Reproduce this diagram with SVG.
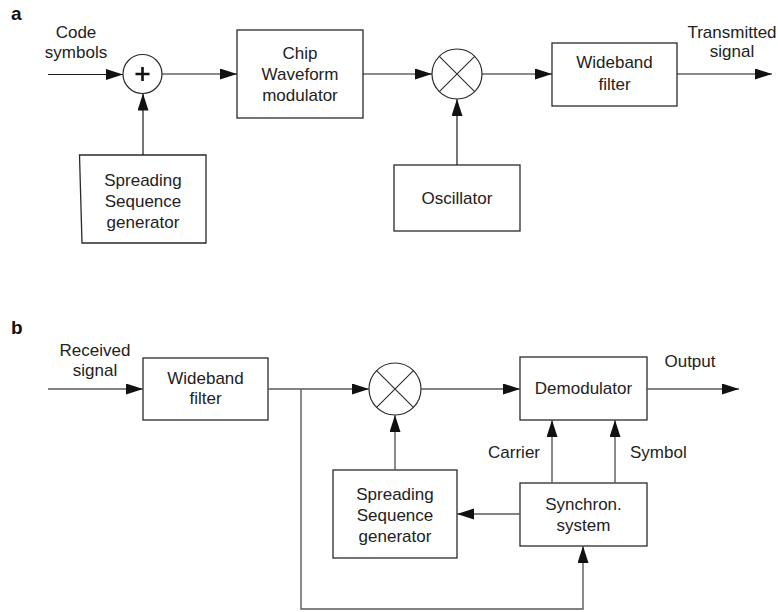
<svg xmlns="http://www.w3.org/2000/svg" width="778" height="612" viewBox="0 0 778 612">
  <style>
    .box { fill: #fff; stroke: #2a2a2a; stroke-width: 1.3; }
    .ring { fill: #fff; stroke: #2a2a2a; stroke-width: 1.2; }
    .x { stroke: #2a2a2a; stroke-width: 1.1; fill: none; }
    .wa { stroke: #1a1a1a; stroke-width: 1.2; fill: none; }
    .wb { stroke: #5a5a5a; stroke-width: 1.4; fill: none; }
    text { font-family: "Liberation Sans", Arial, sans-serif; font-size: 17px; fill: #222; }
    .c { text-anchor: middle; }
    .tag { font-weight: bold; font-size: 19px; fill: #111; }
  </style>
  <defs>
    <marker id="arr" markerUnits="userSpaceOnUse" markerWidth="17" markerHeight="12" refX="17" refY="5.5" orient="auto">
      <path d="M0,0 L17,5.5 L0,11 z" fill="#111"/>
    </marker>
  </defs>

  <!-- panel labels -->
  <text class="tag" x="11" y="20">a</text>
  <text class="tag" x="11" y="334">b</text>

  <!-- ===== transmitter ===== -->
  <g id="code-symbols-label">
    <text class="c" x="76" y="38">Code</text>
    <text class="c" x="76" y="58">symbols</text>
  </g>
  <g id="adder">
    <circle class="ring" cx="142.5" cy="74" r="19.5"/>
    <path d="M135.5,74 H149.5 M142.5,67 V81" stroke="#111" stroke-width="2.6"/>
  </g>
  <g id="chip-modulator">
    <rect class="box" x="237" y="30" width="126" height="88"/>
    <text class="c" x="300" y="59">Chip</text>
    <text class="c" x="300" y="80">Waveform</text>
    <text class="c" x="300" y="101">modulator</text>
  </g>
  <g id="tx-mixer">
    <circle class="ring" cx="457" cy="74" r="25"/>
    <path class="x" d="M439.3,56.3 L474.7,91.7 M474.7,56.3 L439.3,91.7"/>
  </g>
  <g id="tx-filter">
    <rect class="box" x="552" y="43" width="125" height="63"/>
    <text class="c" x="614.5" y="68">Wideband</text>
    <text class="c" x="614.5" y="90">filter</text>
  </g>
  <g id="transmitted-label">
    <text class="c" x="732" y="38">Transmitted</text>
    <text class="c" x="732" y="57">signal</text>
  </g>
  <g id="tx-spreading">
    <polygon class="box" points="79.5,155 206,155 206,243 82,243"/>
    <text class="c" x="143" y="186">Spreading</text>
    <text class="c" x="143" y="207">Sequence</text>
    <text class="c" x="143" y="228">generator</text>
  </g>
  <g id="oscillator">
    <rect class="box" x="394" y="165" width="126" height="66"/>
    <text class="c" x="457" y="204">Oscillator</text>
  </g>

  <g id="tx-connectors">
    <line class="wa" x1="48" y1="74.5" x2="123" y2="74.5" marker-end="url(#arr)"/>
    <line class="wa" x1="162" y1="74" x2="237" y2="74" marker-end="url(#arr)"/>
    <line class="wa" x1="143" y1="155" x2="143" y2="93.5" marker-end="url(#arr)"/>
    <line class="wa" x1="363" y1="74" x2="432" y2="74" marker-end="url(#arr)"/>
    <line class="wa" x1="457" y1="165" x2="457" y2="99" marker-end="url(#arr)"/>
    <line class="wa" x1="482" y1="74" x2="552" y2="74" marker-end="url(#arr)"/>
    <line class="wa" x1="677" y1="74" x2="772" y2="74" marker-end="url(#arr)"/>
  </g>

  <!-- ===== receiver ===== -->
  <g id="received-label">
    <text class="c" x="95" y="356">Received</text>
    <text class="c" x="95" y="376">signal</text>
  </g>
  <g id="rx-filter">
    <rect class="box" x="143" y="358" width="125" height="62"/>
    <text class="c" x="205.5" y="384">Wideband</text>
    <text class="c" x="205.5" y="404">filter</text>
  </g>
  <g id="rx-mixer">
    <circle class="ring" cx="395" cy="389" r="26"/>
    <path class="x" d="M376.6,370.6 L413.4,407.4 M413.4,370.6 L376.6,407.4"/>
  </g>
  <g id="demodulator">
    <rect class="box" x="520" y="357" width="127" height="63"/>
    <text class="c" x="583.5" y="394">Demodulator</text>
  </g>
  <g id="output-label">
    <text class="c" x="690" y="367">Output</text>
  </g>
  <g id="carrier-label">
    <text x="540" y="458" text-anchor="end">Carrier</text>
  </g>
  <g id="symbol-label">
    <text x="630" y="458">Symbol</text>
  </g>
  <g id="rx-spreading">
    <rect class="box" x="333" y="470" width="124" height="88"/>
    <text class="c" x="395" y="500">Spreading</text>
    <text class="c" x="395" y="521">Sequence</text>
    <text class="c" x="395" y="542">generator</text>
  </g>
  <g id="synchronizer">
    <rect class="box" x="520" y="483" width="127" height="63"/>
    <text class="c" x="583.5" y="510">Synchron.</text>
    <text class="c" x="583.5" y="531">system</text>
  </g>

  <g id="rx-connectors">
    <line class="wb" x1="48" y1="389" x2="143" y2="389" marker-end="url(#arr)"/>
    <line class="wb" x1="268" y1="389" x2="369" y2="389" marker-end="url(#arr)"/>
    <polyline class="wb" points="301,389 301,609 583,609 583,546" marker-end="url(#arr)"/>
    <line class="wb" x1="395" y1="470" x2="395" y2="415" marker-end="url(#arr)"/>
    <line class="wb" x1="421" y1="389" x2="520" y2="389" marker-end="url(#arr)"/>
    <line class="wb" x1="647" y1="389" x2="739" y2="389" marker-end="url(#arr)"/>
    <line class="wb" x1="552" y1="483" x2="552" y2="420" marker-end="url(#arr)"/>
    <line class="wb" x1="615" y1="483" x2="615" y2="420" marker-end="url(#arr)"/>
    <line class="wb" x1="520" y1="514" x2="457" y2="514" marker-end="url(#arr)"/>
  </g>
</svg>
